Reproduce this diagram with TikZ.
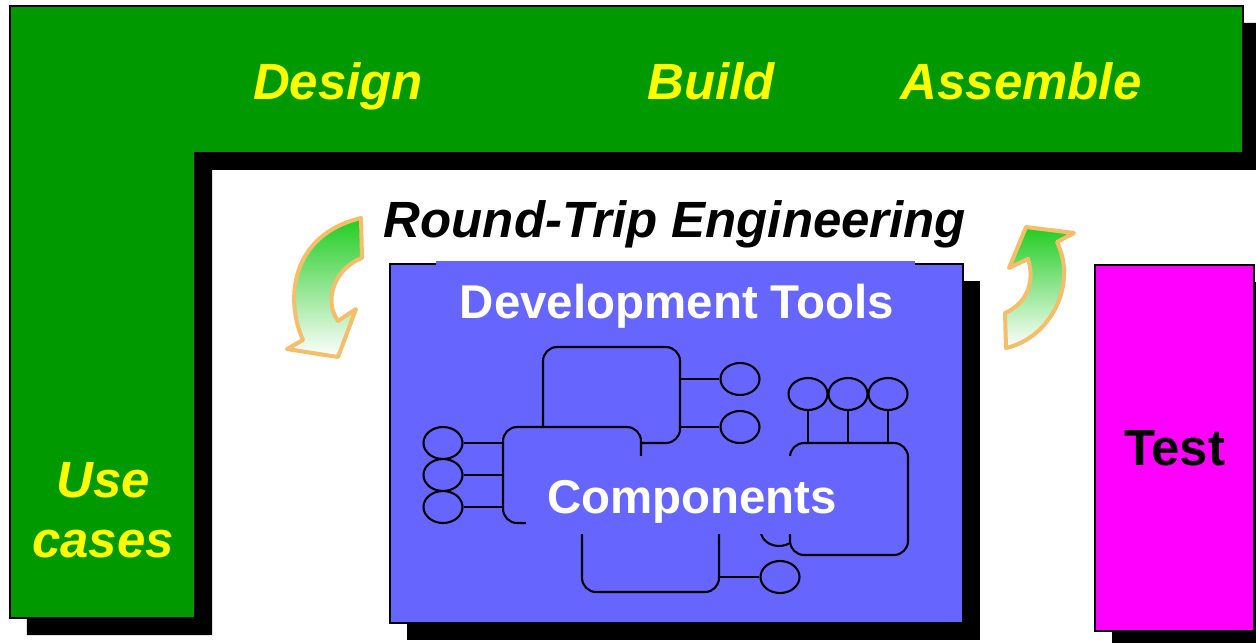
\documentclass[tikz,border=0pt]{standalone}
\usepackage{fontspec}
\setmainfont{Liberation Sans}
\usetikzlibrary{shapes.geometric,shadows,positioning}
\definecolor{phase}{HTML}{009900}
\definecolor{phaseink}{HTML}{FFFF00}
\definecolor{tools}{HTML}{6666FF}
\definecolor{testbox}{HTML}{FF00FF}
\definecolor{loopgreen}{HTML}{22CC22}
\definecolor{rim}{HTML}{F5BE6A}
\newcommand{\ShadowOff}{0.34cm}
\newcommand{\BigFont}{\fontsize{29}{34}\selectfont\bfseries}
\newcommand{\MidFont}{\fontsize{27}{32}\selectfont\bfseries}

\begin{document}
\begin{tikzpicture}[x=0.02cm, y=-0.02cm,
    solid shadow/.style={drop shadow={shadow xshift=\ShadowOff, shadow yshift=-\ShadowOff, fill=black, opacity=1}},
    phaselabel/.style={text=phaseink, font=\BigFont\itshape, anchor=base, inner sep=0pt},
    toolslabel/.style={text=white, font=\MidFont, anchor=base, inner sep=0pt},
    comp/.style={draw=black, fill=tools, line width=1.2pt, rounded corners=8pt, inner sep=0pt},
    port/.style={ellipse, draw=black, fill=tools, line width=1.2pt, minimum width=0.78cm, minimum height=0.64cm, inner sep=0pt},
    wire/.style={draw=black, line width=1.2pt},
    turn/.style={top color=loopgreen, bottom color=white, draw=rim, line width=2.3pt, line join=round},
  ]
\useasboundingbox (0,0) rectangle (1256,642);

% --- The phases: an L round the work area ------------------------------------
\path[fill=phase, draw=black, line width=0.6pt, solid shadow]
  (10,6) -- (1243,6) -- (1243,153) -- (195,153) -- (195,618) -- (10,618) -- cycle;
\node[phaselabel] (design) at (338,99) {Design};
\node[phaselabel] (build) at (711,99) {Build};
\node[phaselabel] (assemble) at (1021,99) {Assemble};
\node[phaselabel, anchor=center, align=center] (usecases) at (103,510) {Use\\cases};

% --- Round trip --------------------------------------------------------------
\node[font=\BigFont\itshape, anchor=base, inner sep=0pt] (roundtrip) at (675,237) {Round-Trip Engineering};
\shadedraw[turn] (361,218) -- (362,258) .. controls (335,268) and (323,300) .. (338,321)
  -- (356,309) -- (338,357) -- (287,349) -- (303,340) .. controls (285,300) and (290,235) .. (361,218) -- cycle;
\shadedraw[turn] (1028,259) -- (1009,268) -- (1026,227) -- (1074,233) -- (1057,242)
  .. controls (1078,285) and (1050,338) .. (1006,348) -- (1005,313) .. controls (1028,303) and (1035,280) .. (1028,259) -- cycle;

% --- Development tools and the components inside -----------------------------
\node[draw=black, fill=tools, line width=1pt, minimum width=11.46cm, minimum height=7.18cm, solid shadow] (tools) at (676.5,443.5) {};
\fill[tools] (436,261) rectangle (915,268);
\node[toolslabel] (toolstitle) at (677,318) {Development Tools};

\node[comp, minimum width=2.74cm, minimum height=1.92cm] (compA) at (611.5,395) {};
\foreach \k/\y in {1/379,2/427} {
  \node[port] (portA\k) at (740,\y) {};
  \draw[wire] (compA.east |- portA\k) -- (portA\k.west);
}
\node[comp, minimum width=2.76cm, minimum height=1.92cm] (compB) at (572,475) {};
\foreach \k/\y in {1/443,2/475,3/507} {
  \node[port] (portB\k) at (443,\y) {};
  \draw[wire] (portB\k.east) -- (portB\k.east -| compB.west);
}
\node[comp, minimum width=2.36cm, minimum height=2.24cm] (compC) at (849,499) {};
\foreach \k/\x in {1/808,2/848,3/888} {
  \node[port] (portC\k) at (\x,394) {};
  \draw[wire] (portC\k.south) -- (portC\k.south |- compC.north);
}
\node[comp, minimum width=2.74cm, minimum height=1.44cm] (compD) at (650.5,556) {};
\node[port] (portD1) at (780,577) {};
\draw[wire] (compD.east |- portD1) -- (portD1.west);
\draw[wire] (761,534) .. controls (765,546) and (780,549) .. (790,543);

\fill[tools] (526,456) rectangle (792,534);
\node[toolslabel] (components) at (692,513) {Components};

% --- Test ----------------------------------------------------------------------
\node[draw=black, fill=testbox, line width=1pt, minimum width=3.18cm, minimum height=7.32cm, font=\BigFont, solid shadow] (test) at (1174.5,448) {Test};

\end{tikzpicture}
\end{document}
